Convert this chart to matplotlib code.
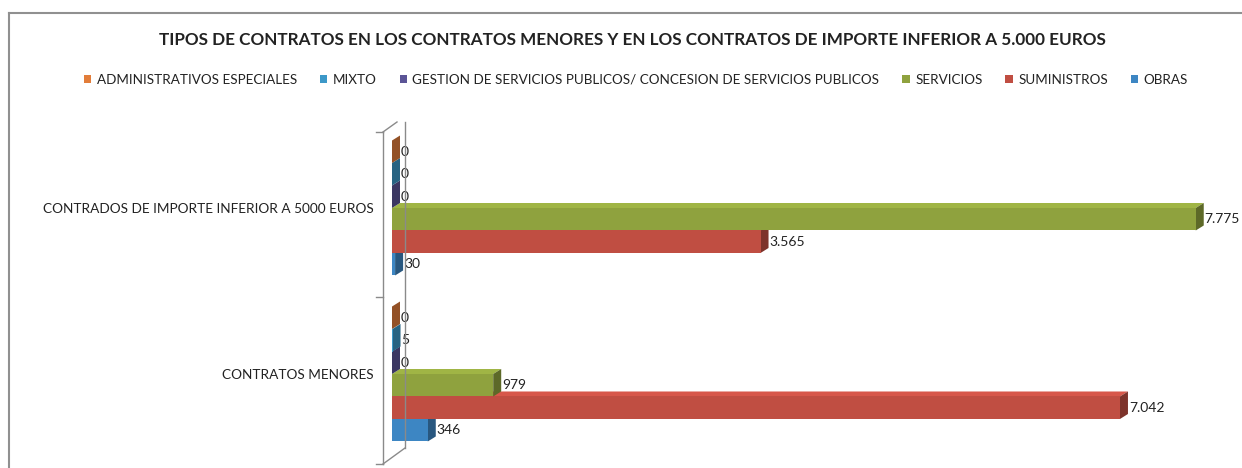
import matplotlib
matplotlib.use("Agg")
import matplotlib.pyplot as plt
import matplotlib.colors as mcolors
from matplotlib.patches import Polygon, Patch
from matplotlib.lines import Line2D
import numpy as np

plt.rcParams['font.family'] = ['Lato', 'DejaVu Sans']

# ---------------- data ----------------
categories = ["CONTRATOS MENORES", "CONTRADOS DE IMPORTE INFERIOR A 5000 EUROS"]
series_names = ["OBRAS", "SUMINISTROS", "SERVICIOS",
                "GESTION DE SERVICIOS PUBLICOS/ CONCESION DE SERVICIOS PUBLICOS",
                "MIXTO", "ADMINISTRATIVOS ESPECIALES"]
obras = [346, 30]
suministros = [7042, 3565]
servicios = [979, 7775]
gestion = [0, 0]
mixto = [5, 0]
administrativos = [0, 0]
title = "TIPOS DE CONTRATOS EN LOS CONTRATOS MENORES Y EN LOS CONTRATOS DE IMPORTE INFERIOR A 5.000 EUROS"

series_values = [obras, suministros, servicios, gestion, mixto, administrativos]
colors = ["#3D86C3", "#C04E42", "#8FA23E", "#5B5496", "#3C98C8", "#E27D3A"]

# ---------------- figure ----------------
W, H, DPI = 1242, 468, 100
fig = plt.figure(figsize=(W / DPI, H / DPI), dpi=DPI)
fig.patch.set_facecolor("white")

ax_left_px, ax_right_px = 392, 1219
ax_top_px, ax_bot_px = 125, 457
ax = fig.add_axes([ax_left_px / W, 1 - ax_bot_px / H,
                   (ax_right_px - ax_left_px) / W, (ax_bot_px - ax_top_px) / H])
XMAX = 8000
ax.set_xlim(0, XMAX)
ax.set_ylim(-0.5, 1.5)

ux = XMAX / (ax_right_px - ax_left_px)      # data units per pixel (x)
uy = 2.0 / (ax_bot_px - ax_top_px)          # data units per pixel (y)
dx, dy = 8 * ux, 5 * uy                     # 3D depth offset

n = len(series_values)
bh = 0.1355
ypos = np.arange(len(categories))


def fmt(v):
    return f"{v:,}".replace(",", ".")


for i, (vals, col) in enumerate(zip(series_values, colors)):
    base = mcolors.to_rgb(col)
    dark = tuple(c * 0.65 for c in base)
    light = tuple(min(1, c * 1.12) for c in base)
    for j, v in enumerate(vals):
        y0 = ypos[j] - n * bh / 2 + i * bh
        # top face
        ax.add_patch(Polygon([(0, y0 + bh), (v, y0 + bh), (v + dx, y0 + bh + dy), (dx, y0 + bh + dy)],
                             closed=True, facecolor=light, edgecolor="none", zorder=2 + i))
        # right face
        ax.add_patch(Polygon([(v, y0), (v + dx, y0 + dy), (v + dx, y0 + bh + dy), (v, y0 + bh)],
                             closed=True, facecolor=dark, edgecolor="none", zorder=2 + i))
        # front face
        ax.barh(y0 + bh / 2, v, height=bh, color=col, edgecolor="none", zorder=2.5 + i)
        ax.text(v + dx + 1.0 * ux, y0 + bh / 2, fmt(v), va="center", ha="left",
                fontsize=10, color="#222222", zorder=20)

ax.set_yticks(ypos)
ax.set_yticklabels(categories, fontsize=9.8, color="#222222")
ax.tick_params(axis="y", length=0, pad=13)
ax.set_xticks([])
for s in ax.spines.values():
    s.set_visible(False)

# 3D wall lines (decorative, in pixel space)
def px_line(xs, ys, **kw):
    fig.add_artist(Line2D([x / W for x in xs], [1 - y / H for y in ys],
                          color="#8a8a8a", lw=1.0, **kw))

px_line([383, 383], [132, 464])
px_line([405, 405], [122, 448])
px_line([383, 397], [132, 122])
px_line([383, 405], [464, 448])
for yb in (132, 297, 464):
    px_line([376, 383], [yb, yb])

# title and legend
fig.text(632 / W, 1 - 40 / H, title, ha="center", va="center",
         fontsize=12.3, fontweight="bold", color="#222222")
order = list(range(n))[::-1]
handles = [Patch(facecolor=colors[k], edgecolor="none") for k in order]
labels = [series_names[k] for k in order]
fig.legend(handles, labels, loc="center", bbox_to_anchor=(636 / W, 1 - 80 / H),
           ncol=n, frameon=False, fontsize=9.7, handlelength=0.55, handleheight=0.55,
           handletextpad=0.4, columnspacing=1.7, labelcolor="#222222")

# outer frame (left and top)
fig.add_artist(Line2D([9 / W, 9 / W], [0, 1 - 13 / H], color="#909090", lw=1.5))
fig.add_artist(Line2D([9 / W, 1], [1 - 13 / H, 1 - 13 / H], color="#909090", lw=1.5))

fig.savefig("out.png", dpi=DPI)
